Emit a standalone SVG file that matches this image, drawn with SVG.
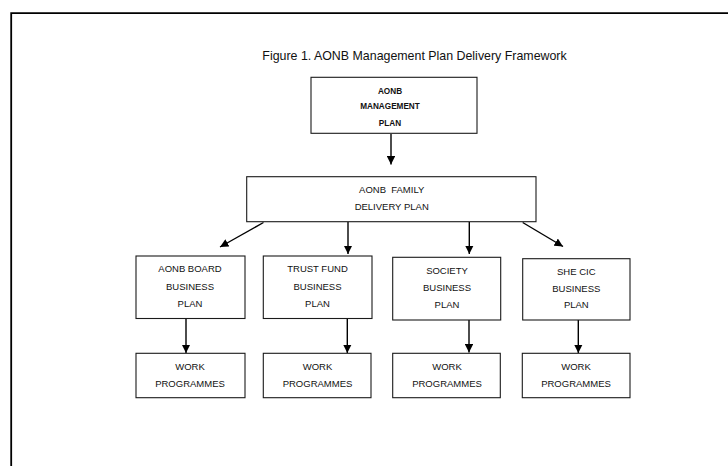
<svg xmlns="http://www.w3.org/2000/svg" width="728" height="466" viewBox="0 0 728 466">
  <style>
    .box { fill: #ffffff; stroke: #1a1a1a; stroke-width: 1.1; }
    .t { font-family: "Liberation Sans", Arial, sans-serif; font-size: 9.5px; fill: #111111; text-anchor: middle; }
    .tb { font-family: "Liberation Sans", Arial, sans-serif; font-size: 8.2px; font-weight: bold; fill: #111111; text-anchor: middle; }
    .title { font-family: "Liberation Sans", Arial, sans-serif; font-size: 12.4px; fill: #111111; text-anchor: middle; }
    .conn { stroke: #000000; stroke-width: 1.4; fill: none; marker-end: url(#arr); }
  </style>
  <defs>
    <marker id="arr" viewBox="0 0 10 10" refX="10" refY="5" markerUnits="userSpaceOnUse" markerWidth="8.5" markerHeight="8.5" orient="auto">
      <path d="M0,0 L10,5 L0,10 Z" fill="#000000"/>
    </marker>
  </defs>
  <rect x="0" y="0" width="728" height="466" fill="#ffffff"/>
  <g id="frame">
    <path d="M11.2,466 L11.2,13.2 L728,13.2" fill="none" stroke="#000000" stroke-width="1.8"/>
  </g>
  <g id="title">
    <text class="title" x="414.5" y="59.5">Figure 1. AONB Management Plan Delivery Framework</text>
  </g>

  <g id="connectors">
    <line class="conn" x1="391" y1="134" x2="391" y2="164.5"/>
    <line class="conn" x1="263.5" y1="222.5" x2="220" y2="247"/>
    <line class="conn" x1="348" y1="222" x2="348" y2="254"/>
    <line class="conn" x1="469.3" y1="222" x2="469.3" y2="254"/>
    <line class="conn" x1="522.7" y1="222.5" x2="563" y2="246.5"/>
    <line class="conn" x1="186" y1="319" x2="186" y2="353"/>
    <line class="conn" x1="347.3" y1="319" x2="347.3" y2="353"/>
    <line class="conn" x1="469" y1="320" x2="469" y2="352.5"/>
    <line class="conn" x1="578.3" y1="320" x2="578.3" y2="353"/>
  </g>

  <g id="management-plan">
    <rect class="box" x="311" y="77.3" width="166" height="56"/>
    <text class="tb" x="390" y="94">AONB</text>
    <text class="tb" x="390" y="109">MANAGEMENT</text>
    <text class="tb" x="390" y="126.3">PLAN</text>
  </g>

  <g id="family-delivery-plan">
    <rect class="box" x="246.7" y="176.7" width="289.3" height="45"/>
    <text class="t" x="391.7" y="193.4" xml:space="preserve">AONB  FAMILY</text>
    <text class="t" x="391.7" y="210.1">DELIVERY PLAN</text>
  </g>

  <g id="aonb-board">
    <rect class="box" x="136" y="256" width="109" height="62.5"/>
    <text class="t" x="190" y="271.7">AONB BOARD</text>
    <text class="t" x="190" y="290">BUSINESS</text>
    <text class="t" x="190" y="306.7">PLAN</text>
  </g>

  <g id="trust-fund">
    <rect class="box" x="263.3" y="256" width="108.7" height="62.5"/>
    <text class="t" x="317.5" y="271.7">TRUST FUND</text>
    <text class="t" x="317.5" y="290">BUSINESS</text>
    <text class="t" x="317.5" y="306.7">PLAN</text>
  </g>

  <g id="society">
    <rect class="box" x="392.7" y="257.3" width="108" height="62.7"/>
    <text class="t" x="447" y="274.1">SOCIETY</text>
    <text class="t" x="447" y="290.7">BUSINESS</text>
    <text class="t" x="447" y="307.7">PLAN</text>
  </g>

  <g id="she-cic">
    <rect class="box" x="522.7" y="258.7" width="107.3" height="61.3"/>
    <text class="t" x="576.3" y="275.1">SHE CIC</text>
    <text class="t" x="576.3" y="291.7">BUSINESS</text>
    <text class="t" x="576.3" y="307.7">PLAN</text>
  </g>

  <g id="work-1">
    <rect class="box" x="136" y="353.3" width="109" height="44.4"/>
    <text class="t" x="190" y="370.1">WORK</text>
    <text class="t" x="190" y="386.7">PROGRAMMES</text>
  </g>

  <g id="work-2">
    <rect class="box" x="263.3" y="353.3" width="107.7" height="44.4"/>
    <text class="t" x="317.5" y="370.1">WORK</text>
    <text class="t" x="317.5" y="386.7">PROGRAMMES</text>
  </g>

  <g id="work-3">
    <rect class="box" x="392.7" y="353.3" width="107.6" height="44.4"/>
    <text class="t" x="447" y="370.1">WORK</text>
    <text class="t" x="447" y="386.7">PROGRAMMES</text>
  </g>

  <g id="work-4">
    <rect class="box" x="522.3" y="353.3" width="107.7" height="44.4"/>
    <text class="t" x="576" y="370.1">WORK</text>
    <text class="t" x="576" y="386.7">PROGRAMMES</text>
  </g>
</svg>
